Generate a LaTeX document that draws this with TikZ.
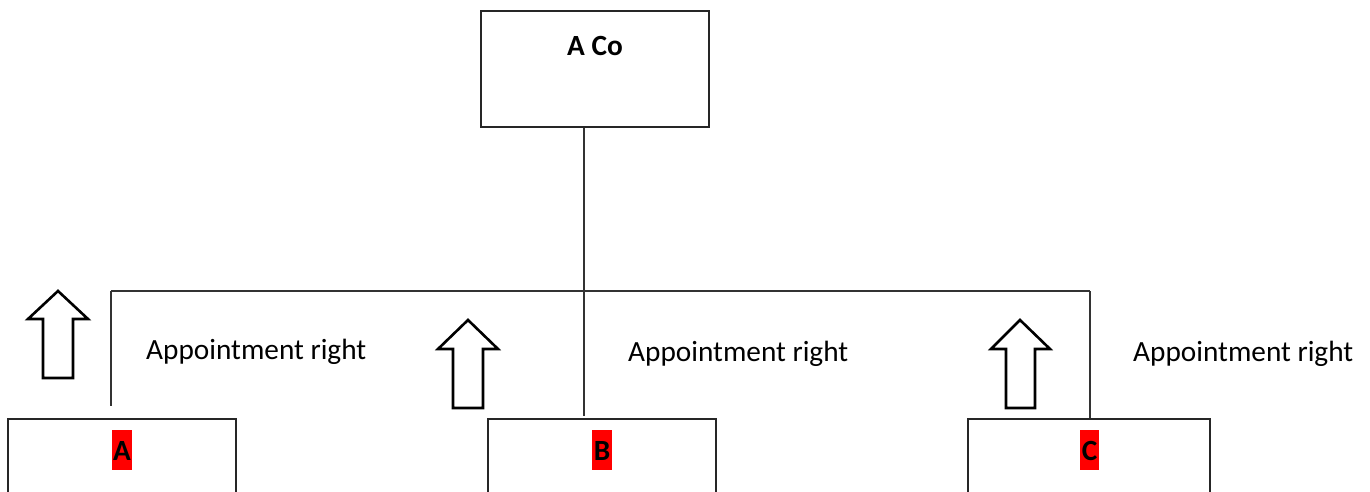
\documentclass[tikz,border=0pt]{standalone}
\usepackage{fontspec}
\setmainfont{Carlito}
\begin{document}
\begin{tikzpicture}[x=1pt,y=-1pt,
  box/.style={draw=black!85,line width=1.4pt,fill=white,inner sep=0pt},
  conn/.style={draw=black!80,line width=1.4pt},
  upar/.style={draw=black,line width=2.6pt,line join=miter,fill=white},
  lbl/.style={font=\fontsize{29.3}{34}\selectfont,inner sep=0pt,anchor=west},
  red/.style={fill=red,inner xsep=1.5pt,inner ysep=0pt,minimum height=40pt,font=\fontsize{29.3}{34}\selectfont\bfseries,text height=20pt,text depth=0pt}]
\useasboundingbox (0,0) rectangle (1370,492);
\clip (0,0) rectangle (1370,492);
\fill[white] (0,0) rectangle (1370,492);
% top box
\node[box,minimum width=228pt,minimum height=116pt] (top) at (595,69) {};
\node[font=\fontsize{29.3}{34}\selectfont\bfseries,inner sep=0pt] (topl) at (595,46) {A Co};
% bottom boxes
\node[box,minimum width=228pt,minimum height=140pt] (bA) at (122,489) {};
\node[box,minimum width=228pt,minimum height=140pt] (bB) at (602,489) {};
\node[box,minimum width=242pt,minimum height=140pt] (bC) at (1089,489) {};
\node[red] (lA) at (122,450) {A};
\node[red] (lB) at (602,450) {B};
\node[red] (lC) at (1089.5,450) {C};
% bus
\coordinate (bl) at (111,291);
\coordinate (bm) at (584,291);
\coordinate (br) at (1090,291);
\coordinate (eA) at (111,406);
\coordinate (eB) at (584,416);
\draw[conn] (top.south -| bm) -- (bm);
\draw[conn] (bl) -- (br);
\draw[conn] (bl) -- (eA);
\draw[conn] (bm) -- (eB);
\draw[conn] (br) -- (bC.north -| br);
% labels
\node[lbl] (t1) at (146,352) {Appointment right};
\node[lbl] (t2) at (628,354) {Appointment right};
\node[lbl] (t3) at (1133,354) {Appointment right};
% up arrows
\draw[upar] (58,291) -- (88,319) -- (73,319) -- (73,378) -- (43,378) -- (43,319) -- (28,319) -- cycle;
\draw[upar] (468,320) -- (498,349) -- (483,349) -- (483,408) -- (453,408) -- (453,349) -- (438,349) -- cycle;
\draw[upar] (1020,320) -- (1050,349) -- (1035,349) -- (1035,408) -- (1006,408) -- (1006,349) -- (991,349) -- cycle;
\end{tikzpicture}
\end{document}
